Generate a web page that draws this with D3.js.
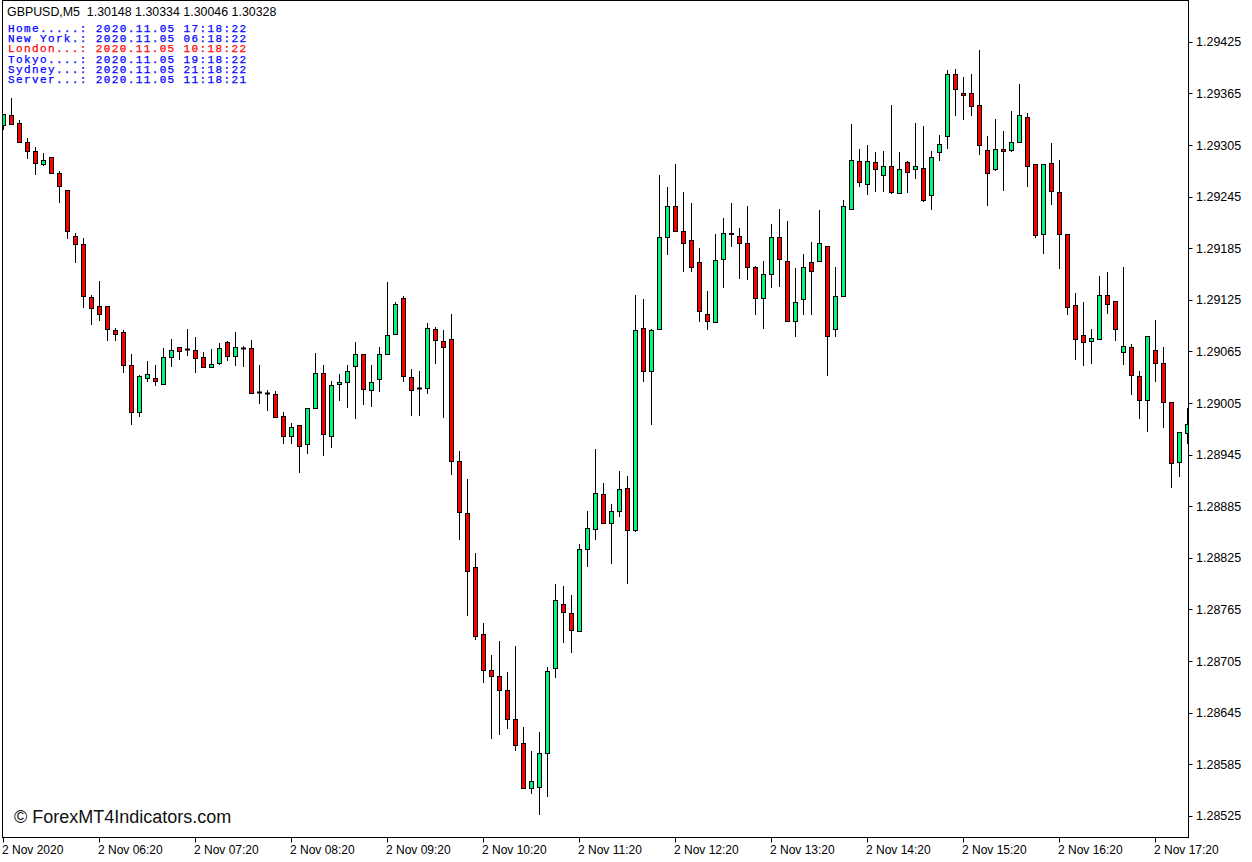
<!DOCTYPE html>
<html>
<head>
<meta charset="utf-8">
<script src="https://cdn.jsdelivr.net/npm/d3@7"></script>
<style>
  html, body { margin: 0; padding: 0; background: #ffffff; }
  svg { display: block; }
</style>
</head>
<body>
<svg id="chart" width="1252" height="862"></svg>
<script>
// ---------------- DATA ----------------
const symbolHeader = "GBPUSD,M5  1.30148 1.30334 1.30046 1.30328";
const clockLabels = ["Home.....:", "New York.:", "London...:", "Tokyo....:", "Sydney...:", "Server...:"];
const clockTimes  = ["2020.11.05 17:18:22", "2020.11.05 06:18:22", "2020.11.05 10:18:22",
                     "2020.11.05 19:18:22", "2020.11.05 21:18:22", "2020.11.05 11:18:21"];
const watermark = "© ForexMT4Indicators.com";

const timeLabels = ["2 Nov 2020", "2 Nov 06:20", "2 Nov 07:20", "2 Nov 08:20", "2 Nov 09:20",
  "2 Nov 10:20", "2 Nov 11:20", "2 Nov 12:20", "2 Nov 13:20", "2 Nov 14:20", "2 Nov 15:20",
  "2 Nov 16:20", "2 Nov 17:20"];
const priceTicks = [1.29425, 1.29365, 1.29305, 1.29245, 1.29185, 1.29125, 1.29065, 1.29005,
  1.28945, 1.28885, 1.28825, 1.28765, 1.28705, 1.28645, 1.28585, 1.28525];

const opens = [
1.29328,1.29340,1.29331,1.29308,1.29298,1.29283,1.29291,1.29272,1.29253,1.29199,
1.29190,1.29128,1.29118,1.29118,1.29090,1.29087,1.29049,1.28994,1.29034,1.29034,
1.29027,1.29058,1.29070,1.29068,1.29067,1.29059,1.29047,1.29051,1.29076,1.29060,
1.29069,1.29069,1.29018,1.29017,1.29016,1.28990,1.28967,1.28979,1.28957,1.28999,
1.29040,1.28967,1.29027,1.29029,1.29048,1.29062,1.29020,1.29033,1.29062,1.29085,
1.29127,1.29035,1.29022,1.29022,1.29091,1.29077,1.29079,1.28938,1.28877,1.28814,
1.28736,1.28694,1.28687,1.28671,1.28638,1.28610,1.28557,1.28559,1.28598,1.28697,
1.28771,1.28761,1.28740,1.28835,1.28858,1.28899,1.28866,1.28879,1.28906,1.28857,
1.29092,1.29042,1.29091,1.29198,1.29234,1.29205,1.29194,1.29169,1.29109,1.29099,
1.29172,1.29203,1.29199,1.29191,1.29163,1.29127,1.29155,1.29198,1.29170,1.29100,
1.29126,1.29169,1.29170,1.29188,1.29091,1.29130,1.29231,1.29286,1.29260,1.29285,
1.29270,1.29281,1.29249,1.29285,1.29277,1.29278,1.29247,1.29297,1.29315,1.29388,
1.29366,1.29365,1.29352,1.29299,1.29277,1.29300,1.29299,1.29308,1.29337,1.29283,
1.29202,1.29284,1.29250,1.29202,1.29119,1.29084,1.29077,1.29079,1.29131,1.29124,
1.29064,1.29070,1.29036,1.29008,1.29067,1.29051,1.29006,1.28936,1.28970];

const highs = [
1.29341,1.29360,1.29334,1.29313,1.29303,1.29296,1.29291,1.29275,1.29253,1.29203,
1.29197,1.29131,1.29147,1.29118,1.29092,1.29090,1.29062,1.29038,1.29054,1.29049,
1.29069,1.29079,1.29070,1.29091,1.29082,1.29064,1.29068,1.29075,1.29077,1.29088,
1.29071,1.29078,1.29049,1.29020,1.29019,1.28995,1.28982,1.28979,1.28999,1.29063,
1.29049,1.29030,1.29039,1.29049,1.29076,1.29062,1.29049,1.29070,1.29146,1.29122,
1.29129,1.29045,1.29042,1.29098,1.29093,1.29090,1.29109,1.28949,1.28917,1.28831,
1.28749,1.28712,1.28728,1.28692,1.28722,1.28628,1.28600,1.28623,1.28698,1.28794,
1.28792,1.28782,1.28841,1.28879,1.28952,1.28912,1.28888,1.28926,1.28920,1.29131,
1.29126,1.29091,1.29270,1.29256,1.29283,1.29250,1.29237,1.29185,1.29135,1.29202,
1.29220,1.29237,1.29208,1.29234,1.29164,1.29170,1.29213,1.29231,1.29217,1.29162,
1.29178,1.29192,1.29229,1.29188,1.29163,1.29241,1.29330,1.29300,1.29305,1.29297,
1.29298,1.29352,1.29297,1.29286,1.29331,1.29327,1.29298,1.29317,1.29392,1.29393,
1.29384,1.29387,1.29416,1.29315,1.29335,1.29321,1.29345,1.29376,1.29342,1.29283,
1.29283,1.29307,1.29288,1.29202,1.29133,1.29122,1.29091,1.29153,1.29157,1.29124,
1.29163,1.29074,1.29042,1.29083,1.29102,1.29070,1.29006,1.28971,1.28999];

const lows = [
1.29324,1.29330,1.29308,1.29290,1.29271,1.29282,1.29273,1.29239,1.29197,1.29169,
1.29117,1.29097,1.29102,1.29078,1.29078,1.29041,1.28981,1.28990,1.29031,1.29026,
1.29027,1.29048,1.29056,1.29061,1.29041,1.29047,1.29047,1.29050,1.29055,1.29049,
1.29048,1.29017,1.29005,1.28997,1.28989,1.28959,1.28959,1.28925,1.28947,1.28999,
1.28944,1.28954,1.29009,1.29000,1.28987,1.29004,1.29002,1.29019,1.29062,1.29085,
1.29030,1.28991,1.28991,1.29017,1.29051,1.28989,1.28922,1.28847,1.28759,1.28730,
1.28681,1.28615,1.28620,1.28627,1.28601,1.28557,1.28551,1.28527,1.28548,1.28686,
1.28727,1.28715,1.28740,1.28815,1.28847,1.28865,1.28819,1.28874,1.28796,1.28856,
1.29031,1.28981,1.29091,1.29178,1.29205,1.29158,1.29158,1.29100,1.29091,1.29099,
1.29140,1.29188,1.29150,1.29149,1.29109,1.29092,1.29140,1.29141,1.29100,1.29083,
1.29109,1.29108,1.29170,1.29038,1.29083,1.29129,1.29231,1.29257,1.29248,1.29252,
1.29252,1.29249,1.29249,1.29250,1.29267,1.29240,1.29231,1.29287,1.29301,1.29340,
1.29335,1.29340,1.29295,1.29235,1.29276,1.29253,1.29298,1.29308,1.29257,1.29198,
1.29179,1.29236,1.29162,1.29108,1.29056,1.29049,1.29051,1.29079,1.29110,1.29078,
1.29050,1.29016,1.28988,1.28973,1.29030,1.28977,1.28907,1.28920,1.28959];

const closes = [
1.29341,1.29330,1.29308,1.29298,1.29284,1.29288,1.29273,1.29257,1.29205,1.29190,
1.29129,1.29115,1.29108,1.29091,1.29085,1.29049,1.28994,1.29036,1.29039,1.29030,
1.29058,1.29067,1.29065,1.29068,1.29057,1.29047,1.29050,1.29069,1.29060,1.29070,
1.29069,1.29017,1.29018,1.29017,1.28989,1.28967,1.28977,1.28955,1.28999,1.29040,
1.28969,1.29026,1.29029,1.29042,1.29062,1.29021,1.29029,1.29062,1.29084,1.29120,
1.29036,1.29020,1.29022,1.29092,1.29078,1.29070,1.28937,1.28878,1.28810,1.28734,
1.28695,1.28688,1.28671,1.28637,1.28607,1.28557,1.28566,1.28598,1.28693,1.28776,
1.28762,1.28741,1.28835,1.28860,1.28900,1.28865,1.28879,1.28905,1.28857,1.29090,
1.29042,1.29090,1.29198,1.29234,1.29205,1.29191,1.29163,1.29112,1.29100,1.29171,
1.29203,1.29201,1.29191,1.29163,1.29127,1.29155,1.29198,1.29172,1.29100,1.29122,
1.29163,1.29159,1.29191,1.29083,1.29129,1.29234,1.29287,1.29262,1.29286,1.29277,
1.29280,1.29250,1.29277,1.29274,1.29280,1.29241,1.29291,1.29306,1.29388,1.29370,
1.29363,1.29350,1.29305,1.29273,1.29300,1.29298,1.29309,1.29340,1.29280,1.29200,
1.29283,1.29251,1.29202,1.29117,1.29079,1.29076,1.29080,1.29131,1.29120,1.29091,
1.29071,1.29037,1.29009,1.29083,1.29052,1.29006,1.28935,1.28971,1.28981];

// ---------------- LAYOUT ----------------
const W = 1252, H = 862;
const plot = { left: 2.5, top: 0.5, right: 1188.5, bottom: 837.5 };
const BULL = "#00f57a", BEAR = "#ff0000";

const svg = d3.select("#chart");
svg.append("rect").attr("width", W).attr("height", H).attr("fill", "#fff");

const n = opens.length;
const x = d3.scaleLinear().domain([0, n - 1]).range([3.5, 3.5 + 8 * (n - 1)]);
const y = d3.scaleLinear().domain([1.28525, 1.29425]).range([815.8, 41.8]);
const snap = v => Math.round(v) + 0.5;

svg.append("defs").append("clipPath").attr("id", "clip")
  .append("rect").attr("x", plot.left + 0.5).attr("y", plot.top + 0.5)
  .attr("width", plot.right - plot.left - 1).attr("height", plot.bottom - plot.top - 1);

const candles = d3.range(n).map(i => ({ i, o: opens[i], h: highs[i], l: lows[i], c: closes[i] }));

const g = svg.append("g").attr("clip-path", "url(#clip)");

// wicks
g.selectAll("line.wick").data(candles).join("line")
  .attr("class", "wick")
  .attr("x1", d => x(d.i)).attr("x2", d => x(d.i))
  .attr("y1", d => snap(y(d.h)) - 0.5).attr("y2", d => snap(y(d.l)) + 0.5)
  .attr("stroke", "#000").attr("stroke-width", 1).attr("shape-rendering", "crispEdges");

// bodies
g.selectAll("rect.body").data(candles.filter(d => d.o !== d.c)).join("rect")
  .attr("class", "body")
  .attr("x", d => x(d.i) - 2)
  .attr("width", 4)
  .attr("y", d => snap(y(Math.max(d.o, d.c))))
  .attr("height", d => Math.max(1, snap(y(Math.min(d.o, d.c))) - snap(y(Math.max(d.o, d.c)))))
  .attr("fill", d => d.c > d.o ? BULL : BEAR)
  .attr("stroke", "#000").attr("stroke-width", 1);

// doji
g.selectAll("line.doji").data(candles.filter(d => d.o === d.c)).join("line")
  .attr("class", "doji")
  .attr("x1", d => x(d.i) - 2.5).attr("x2", d => x(d.i) + 2.5)
  .attr("y1", d => snap(y(d.o))).attr("y2", d => snap(y(d.o)))
  .attr("stroke", "#000").attr("stroke-width", 2);

// frame
svg.append("rect")
  .attr("x", plot.left).attr("y", plot.top)
  .attr("width", plot.right - plot.left).attr("height", plot.bottom - plot.top)
  .attr("fill", "none").attr("stroke", "#000").attr("stroke-width", 1);

// right price axis
const yAxis = svg.append("g").attr("font-family", "'Liberation Sans', Arial, sans-serif")
  .attr("font-size", 12.5).attr("fill", "#000");
yAxis.selectAll("line").data(priceTicks).join("line")
  .attr("x1", plot.right).attr("x2", plot.right + 4)
  .attr("y1", d => snap(y(d))).attr("y2", d => snap(y(d)))
  .attr("stroke", "#000");
yAxis.selectAll("text").data(priceTicks).join("text")
  .attr("x", 1196).attr("y", d => y(d) + 4.5)
  .text(d => d.toFixed(5));

// bottom time axis
const xAxis = svg.append("g").attr("font-family", "'Liberation Sans', Arial, sans-serif")
  .attr("font-size", 12).attr("fill", "#000");
const timeIdx = timeLabels.map((t, k) => ({ t, i: k * 12 }));
xAxis.selectAll("line").data(timeIdx).join("line")
  .attr("x1", d => x(d.i)).attr("x2", d => x(d.i))
  .attr("y1", plot.bottom).attr("y2", plot.bottom + 5)
  .attr("stroke", "#000");
xAxis.selectAll("text").data(timeIdx).join("text")
  .attr("x", d => x(d.i) - 1.5).attr("y", 854)
  .text(d => d.t);

// header
svg.append("text").attr("x", 7).attr("y", 16)
  .attr("font-family", "'Liberation Sans', Arial, sans-serif").attr("font-size", 12.4)
  .style("white-space", "pre")
  .attr("fill", "#000").text(symbolHeader);

const clocks = svg.append("g").attr("font-family", "'Liberation Mono', 'Courier New', monospace")
  .attr("font-size", 11).attr("letter-spacing", 1.38);
clockLabels.forEach((lab, k) => {
  clocks.append("text")
    .attr("x", 8).attr("y", 32 + k * 10.2)
    .attr("fill", k === 2 ? "#ff0000" : "#0000ff")
    .attr("stroke", k === 2 ? "#ff0000" : "#0000ff").attr("stroke-width", 0.25)
    .style("white-space", "pre")
    .text(lab + " " + clockTimes[k]);
});

// watermark
svg.append("text").attr("x", 14).attr("y", 823)
  .attr("font-family", "'Liberation Sans', Arial, sans-serif").attr("font-size", 18)
  .attr("fill", "#111").text(watermark);
</script>
</body>
</html>
